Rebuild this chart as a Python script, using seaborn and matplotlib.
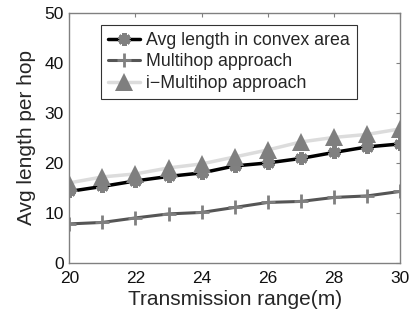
import matplotlib
matplotlib.use("Agg")
import matplotlib.pyplot as plt
import seaborn as sns
import pandas as pd

x_range = [20, 21, 22, 23, 24, 25, 26, 27, 28, 29, 30]
avg_convex = [14.3, 15.3, 16.4, 17.3, 18.0, 19.4, 20.0, 20.9, 22.1, 23.2, 23.8]
multihop = [7.8, 8.1, 9.0, 9.8, 10.1, 11.1, 12.1, 12.3, 13.1, 13.4, 14.3]
i_multihop = [16.0, 17.2, 17.8, 19.0, 19.8, 21.2, 22.6, 24.2, 25.1, 25.7, 26.8]
labels = ["Avg length in convex area", "Multihop approach", "i\u2212Multihop approach"]
x_ticks = [20, 22, 24, 26, 28, 30]
y_ticks = [0, 10, 20, 30, 40, 50]

sns.set_style("white")
plt.rcParams["font.family"] = ["Liberation Sans", "DejaVu Sans"]

fig = plt.figure(figsize=(4.1, 3.23), dpi=100)
ax = fig.add_axes([0.169, 0.186, 0.807, 0.774])

df1 = pd.DataFrame({"x": x_range, "y": avg_convex})
df2 = pd.DataFrame({"x": x_range, "y": multihop})
df3 = pd.DataFrame({"x": x_range, "y": i_multihop})

sns.lineplot(data=df1, x="x", y="y", ax=ax, color="black", linewidth=2.5,
             marker=(6, 2, 0), markersize=9, markeredgewidth=3.2,
             markeredgecolor="#808080", markerfacecolor="#808080", label=labels[0])
sns.lineplot(data=df2, x="x", y="y", ax=ax, color="#555555", linewidth=2.2,
             marker="+", markersize=10, markeredgewidth=2,
             markeredgecolor="#808080", label=labels[1])
sns.lineplot(data=df3, x="x", y="y", ax=ax, color="#dcdcdc", linewidth=2.5,
             marker="^", markersize=13, markeredgewidth=0,
             markerfacecolor="#7f7f7f", label=labels[2])

ax.set_xlim(20, 30)
ax.set_ylim(0, 50)
ax.set_xticks(x_ticks)
ax.set_yticks(y_ticks)
ax.tick_params(direction="in", length=3, color="#808080", labelsize=12.5,
               top=True, right=True, labelcolor="#111111")
ax.tick_params(axis="x", pad=6)
ax.tick_params(axis="y", pad=4)
for s in ax.spines.values():
    s.set_color("#808080")
    s.set_linewidth(1.0)
ax.set_xlabel("Transmission range(m)", fontsize=15, labelpad=3)
ax.set_ylabel("Avg length per hop", fontsize=15, labelpad=6)

leg = ax.legend(loc="upper left", bbox_to_anchor=(0.095, 0.952), fontsize=12.8,
                frameon=True, fancybox=False, handlelength=1.8, handletextpad=0.33,
                borderpad=0.4, labelspacing=0.25, borderaxespad=0)
leg.get_frame().set_edgecolor("black")
leg.get_frame().set_linewidth(0.8)

fig.savefig("out.png", dpi=100)
